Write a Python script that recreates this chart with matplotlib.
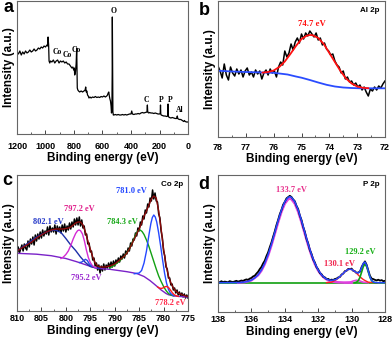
import numpy as np
import matplotlib
matplotlib.use('Agg')
import matplotlib.pyplot as plt
from matplotlib.ticker import MultipleLocator

plt.rcParams['font.family'] = ['Liberation Sans', 'DejaVu Sans']

# ---------------- panel a: survey (binding energy, intensity) ----------------
survey = [(1200, 82), (1190, 80), (1180, 83), (1170, 79), (1160, 82), (1150, 80), (1140, 83),
          (1130, 81), (1120, 82), (1110, 84), (1100, 82), (1090, 83), (1080, 85), (1070, 83),
          (1060, 84), (1050, 86), (1040, 85), (1030, 87), (1020, 86), (1010, 88), (1000, 87),
          (990, 89), (985, 88), (982, 97), (978, 89), (975, 73), (970, 71), (965, 73),
          (955, 72), (945, 74), (935, 71), (925, 73), (915, 74), (905, 71), (895, 73),
          (885, 72), (875, 73), (865, 71), (855, 72), (845, 70), (835, 70), (825, 68),
          (815, 66), (808, 67), (802, 64), (798, 66), (795, 59), (790, 62), (785, 70),
          (781, 86), (777, 46), (773, 44), (768, 43), (760, 42), (750, 43), (740, 42),
          (730, 43), (722, 44), (718, 47), (714, 42), (710, 43), (705, 39), (700, 38),
          (695, 36), (688, 37), (680, 36), (670, 37), (660, 36.5), (650, 37.5), (640, 36.5),
          (630, 37), (620, 36.5), (610, 37.5), (600, 37), (590, 38), (580, 37), (570, 38),
          (565, 39), (560, 41), (556, 42), (552, 38), (548, 35), (544, 33), (540, 28),
          (537, 21), (534, 24), (532, 60), (531, 117), (529, 70), (527, 22), (524, 19),
          (520, 19), (510, 19.5), (500, 19), (490, 19.5), (480, 19), (470, 19), (460, 19.5),
          (450, 19), (440, 19.5), (430, 19), (420, 19.5), (410, 20), (400, 20), (395, 23),
          (390, 20), (380, 19.5), (370, 20), (360, 20), (350, 20.5), (340, 20), (330, 21),
          (320, 21.5), (310, 21), (300, 21.5), (292, 22), (288, 22), (285, 29), (283, 23),
          (280, 21.5), (275, 21), (270, 21.5), (260, 21), (250, 21), (240, 20.5), (230, 21),
          (220, 20.5), (210, 20), (200, 20), (195, 20.5), (193, 29), (191, 20), (188, 19),
          (180, 18.5), (170, 18), (160, 18), (150, 17.5), (143, 18), (140, 30), (138, 18),
          (135, 17), (130, 16.5), (120, 16), (110, 16.5), (100, 16), (90, 15.5), (80, 15.5),
          (75, 18), (72, 15.5), (68, 15), (60, 14.5), (50, 14.5), (40, 13.5), (30, 12.5),
          (25, 13.5), (20, 12.5), (10, 12), (0, 12)]
survey_e = [p[0] for p in survey]
survey_i = [p[1] for p in survey]

survey_labels = ['Co', 'Co', 'Co', 'O', 'C', 'P', 'P', 'Al']
survey_label_e = [916, 846, 782, 523, 291, 189, 126, 56]
survey_label_i = [82, 79, 83.5, 123, 34, 34.5, 34.5, 24]

# ---------------- panel b: Al 2p ----------------
al_e = np.linspace(78, 72, 81)
al_data = [71, 66, 59, 73, 62, 57, 70, 64, 61, 68, 63, 67, 60, 66, 69, 62, 65, 60, 67, 63,
           66, 58, 64, 67, 62, 68, 64, 66, 60, 70, 75, 72, 86, 80, 84, 93, 87, 95, 99, 94,
           103, 98, 104, 101, 106, 103, 100, 104, 97, 99, 92, 94, 88, 86, 82, 83, 76, 72,
           70, 64, 66, 58, 60, 55, 56, 52, 54, 50, 52, 47, 50, 45, 41, 48, 46, 50, 47, 51,
           49, 53, 56]
al_fit_e = [76.4, 76.2, 76.0, 75.8, 75.6, 75.4, 75.2, 75.0, 74.8, 74.7, 74.6, 74.4, 74.2,
            74.0, 73.8, 73.6, 73.4, 73.2, 73.0, 72.8, 72.6]
al_fit_i = [64.4, 65.0, 66.5, 70.0, 75.5, 83.0, 91.0, 98.0, 101.5, 102.0, 101.8, 99.0, 93.0,
            84.0, 75.0, 66.0, 58.5, 53.5, 50.5, 49.2, 48.8]
al_bg_e = [78.0, 77.5, 77.0, 76.5, 76.0, 75.5, 75.2, 75.0, 74.7, 74.4, 74.1, 73.8, 73.5,
           73.2, 72.9, 72.5, 72.0]
al_bg_i = [66.3, 65.5, 65.0, 64.6, 64.2, 62.5, 60.5, 59.3, 57.0, 54.5, 52.2, 50.5, 49.5,
           49.0, 48.7, 48.7, 48.7]

# ---------------- panel c: Co 2p ----------------
co_e = np.arange(810, 774.99, -0.25)
co_data = [57, 64, 58, 62, 66, 60, 67, 63, 61, 70,
           64, 72, 67, 74, 66, 76, 70, 77, 72, 79,
           73, 81, 75, 80, 77, 84, 76, 85, 79, 83,
           79, 86, 77, 85, 80, 84, 78, 86, 80, 87,
           79, 85, 81, 88, 82, 89, 84, 92, 86, 93,
           86, 94, 85, 91, 83, 85, 76, 77, 67, 68,
           59, 60, 51, 53, 45, 48, 41, 46, 38, 45,
           40, 47, 41, 46, 43, 48, 43, 49, 44, 50,
           45, 51, 48, 53, 49, 55, 52, 57, 53, 60,
           57, 63, 60, 68, 65, 72, 71, 78, 75, 83,
           80, 89, 86, 95, 92, 101, 98, 107, 104, 113,
           110, 121, 112, 118, 110, 109, 97, 93, 80, 73,
           60, 55, 44, 42, 33, 33, 26, 27, 21, 23,
           18, 21, 16, 19, 15, 18, 14, 17, 13, 16,
           13]
co_env_e = np.arange(810, 774.99, -0.5)
co_env_i = [60, 61.5, 63, 64.5, 66, 67.5, 69, 71, 73, 74.5, 76, 77.5, 79, 80, 81, 81.5, 82,
            82, 82, 82, 82.5, 83, 84, 86, 88, 89, 89, 86, 79, 70, 62, 54, 48, 45, 44, 44, 44,
            44.5, 45, 46, 47, 49, 51, 53, 55, 58, 62, 67, 72, 77, 82, 88, 95, 100, 106, 112,
            115, 113, 100, 82, 62, 46, 35, 28, 23, 20, 18, 17, 16, 15, 14.5]
co_bg_e = [810, 806, 803, 800, 797.8, 795.5, 793.7, 791, 787.5, 785.5, 784, 782.8, 782.1,
           781.2, 780.5, 780, 779.5, 779, 778, 777, 776, 775]
co_bg_i = [57.7, 56.8, 55.3, 52.5, 49.3, 45.5, 42.7, 41.7, 39.3, 37.5, 34.5, 30.5, 27.7,
           24.0, 21.0, 19.3, 17.5, 16.3, 15.2, 14.6, 14.3, 14.0]
co802_e = [810, 808, 806, 804, 803, 802.2, 801, 800, 799, 798, 797, 796, 795, 794, 793]
co802_i = [60, 67, 74, 79, 80.5, 81, 78.5, 72.5, 66, 60.5, 54, 48.5, 44.5, 43.3, 42.9]
co797_e = [801, 800.5, 800, 799.5, 799, 798.5, 798, 797.6, 797.3, 797, 796.6, 796.2,
           795.8, 795.4, 795, 794.6, 794.2, 793.8]
co797_i = [52.5, 54, 56.5, 60, 65.5, 72, 77.5, 80.3, 81, 80.3, 77, 70, 61, 53.5, 48.5,
           45.5, 44, 43.2]
co795_e = [797.2, 796.8, 796.4, 796.0, 795.6, 795.2, 794.8]
co795_i = [48.5, 48.8, 50.2, 51.7, 50.5, 47.0, 45.0]
co784_e = [791, 790, 789, 788, 787, 786.5, 786, 785.6, 785.2, 784.8, 784.4, 784, 783.5,
           783, 782.5, 782, 781.5, 781, 780.5, 780, 779.5, 779, 778.5, 778]
co784_i = [43, 46, 50, 55, 62, 67.5, 73, 77.5, 80.5, 81, 79.5, 76.5, 71, 64.5, 57, 49.5,
           42, 35, 29.5, 24.5, 20.5, 17.5, 16, 15.2]
co781_e = [786, 785, 784.5, 784, 783.5, 783, 782.6, 782.3, 782.0, 781.7, 781.4, 781,
           780.6, 780.2, 779.8, 779.4, 779, 778.6, 778.2, 777.8]
co781_i = [37.2, 38, 40.5, 48, 60, 76, 87.5, 93.5, 96, 94, 89, 78, 65, 51, 38, 28,
           21.5, 17.8, 16, 15.2]
co778_e = [781.2, 780.8, 780.4, 780.0, 779.7, 779.4, 779.0, 778.6, 778.2, 777.8, 777.4, 777.0]
co778_i = [24.0, 22.8, 22.6, 23.3, 24.2, 24.6, 23.6, 21.0, 18.2, 16.2, 15.2, 14.7]

co_labels = ['781.0 eV', '797.2 eV', '802.1 eV', '784.3 eV', '795.2 eV', '778.2 eV']
co_label_e = [786.5, 797.3, 803.5, 788.5, 795.9, 778.7]
co_label_i = [119.5, 101.5, 89.5, 89.5, 33.5, 8]

# ---------------- panel d: P 2p ----------------
p_e = np.round(np.arange(138, 127.99, -0.1), 2)
p_data = [30.2, 29.6, 30.8, 29.9, 30.4, 30.1, 29.7, 30.9, 30.3, 30.0, 30.6, 31.2, 30.4,
          30.9, 31.5, 31.1, 32.0, 32.6, 32.2, 33.4, 34.1, 35.6, 36.3, 38.4, 40.2, 42.9,
          45.1, 48.6, 51.3, 55.9, 59.6, 64.8, 69.5, 75.2, 80.6, 86.9, 92.1, 97.8, 102.0,
          107.3, 110.1, 113.6, 114.9, 116.2, 115.0, 112.6, 110.8, 106.1, 102.9, 96.5, 92.0,
          85.1, 80.2, 73.1, 68.6, 62.0, 58.1, 52.4, 49.5, 44.8, 42.6, 38.9, 37.8, 35.1,
          34.6, 33.0, 33.1, 31.9, 32.4, 32.0, 33.0, 33.4, 34.6, 35.0, 37.5, 38.4, 40.9,
          41.2, 43.1, 42.9, 43.4, 41.1, 40.8, 38.9, 39.6, 40.2, 45.0, 48.1, 50.6, 47.2,
          41.5, 36.2, 33.4, 32.9, 32.1, 31.6, 32.3, 31.4, 31.9, 30.8, 31.2]
p_env_e = [138.0, 137.0, 136.8, 136.6, 136.4, 136.2, 136.0, 135.8, 135.6, 135.4, 135.2,
           135.0, 134.8, 134.6, 134.4, 134.2, 134.0, 133.8, 133.7, 133.6, 133.4, 133.2,
           133.0, 132.8, 132.6, 132.4, 132.2, 132.0, 131.8, 131.6, 131.4, 131.2, 131.0,
           130.9, 130.8, 130.7, 130.6, 130.5, 130.4, 130.3, 130.2, 130.1, 130.0, 129.9,
           129.8, 129.7, 129.6, 129.5, 129.4, 129.3, 129.2, 129.1, 129.0, 128.9, 128.8,
           128.7, 128.6, 128.4, 128.0]
p_env_i = [29.3, 29.4, 29.4, 29.6, 30.0, 30.7, 31.9, 34.0, 37.2, 42.0, 48.8, 57.5, 68.0,
           79.7, 91.5, 102.2, 110.3, 114.7, 115.3, 114.7, 110.3, 102.2, 91.5, 79.7, 68.0,
           57.5, 48.8, 42.0, 37.2, 34.0, 32.2, 31.6, 32.2, 32.9, 34.1, 35.5, 37.1, 38.7,
           40.2, 41.6, 42.5, 42.8, 42.5, 41.6, 40.3, 39.3, 39.0, 40.6, 44.4, 48.6, 50.0,
           46.8, 40.8, 35.1, 31.6, 30.1, 29.5, 29.3, 29.3]
p133_e = [136.8, 136.4, 136.0, 135.6, 135.4, 135.2, 135.0, 134.8, 134.6, 134.4, 134.2,
          134.0, 133.8, 133.7, 133.6, 133.4, 133.2, 133.0, 132.8, 132.6, 132.4, 132.2,
          132.0, 131.8, 131.6, 131.4, 131.2, 130.8, 130.4, 130.0]
p133_i = [29.4, 29.9, 31.7, 36.8, 41.4, 48.0, 56.5, 66.8, 78.3, 89.8, 100.4, 108.4, 112.8,
          113.4, 112.8, 108.4, 100.4, 89.8, 78.3, 66.8, 56.5, 48.0, 41.4, 36.8, 33.7, 31.7,
          30.5, 29.7, 29.4, 29.3]
p_small_e = [130.4, 130.1, 129.9, 129.7, 129.5, 129.3, 129.0]
p_small_i = [29.3, 29.8, 31.0, 31.8, 31.0, 29.8, 29.3]
p130_e = [131.5, 131.2, 131.0, 130.9, 130.8, 130.7, 130.6, 130.5, 130.4, 130.3, 130.2,
          130.1, 130.0, 129.9, 129.8, 129.7, 129.6, 129.5, 129.4, 129.3, 129.2, 129.0,
          128.7, 128.4]
p130_i = [29.4, 29.8, 31.5, 32.5, 33.8, 35.3, 37.0, 38.7, 40.2, 41.6, 42.5, 42.8, 42.5,
          41.6, 40.2, 38.7, 37.0, 35.3, 33.8, 32.5, 31.5, 29.8, 29.4, 29.3]
p129_e = [129.8, 129.7, 129.6, 129.5, 129.4, 129.3, 129.2, 129.1, 129.0, 128.9, 128.8,
          128.7, 128.6, 128.5]
p129_i = [29.4, 29.9, 31.3, 34.6, 39.9, 45.4, 47.8, 45.4, 39.9, 34.6, 31.3, 29.9, 29.4, 29.3]
p_base_e = [138, 128]
p_base_i = [29.3, 29.3]

p_labels = ['133.7 eV', '130.1 eV', '129.2 eV']
p_label_e = [133.63, 130.7, 129.5]
p_label_i = [122.5, 48.5, 60.5]

# ---------------- layout ----------------
fig = plt.figure(figsize=(3.92, 3.39), dpi=100)
W, H = 392.0, 339.0


def make_ax(l, t, r, b):
    return fig.add_axes([l / W, 1 - b / H, (r - l) / W, (b - t) / H])


ax_a = make_ax(17, 1, 188, 134)
ax_b = make_ax(218, 1, 385, 137)
ax_c = make_ax(17, 175, 188, 311)
ax_d = make_ax(218, 175, 385, 312)

serif = {'family': 'Liberation Serif', 'weight': 'bold'}

for ax, pad in ((ax_a, 5.5), (ax_b, 4), (ax_c, 2.5), (ax_d, 2.5)):
    for s in ax.spines.values():
        s.set_color('#666666')
        s.set_linewidth(0.8)
    ax.set_yticks([])
    ax.tick_params(axis='x', which='major', direction='in', length=3, width=0.7,
                   labelsize=6.5, pad=pad, color='#444444')
    ax.tick_params(axis='x', which='minor', direction='in', length=1.8, width=0.6,
                   color='#444444')
    ax.set_xlabel('Binding energy (eV)', fontsize=8.5, fontweight='bold', labelpad=1)
    ax.set_ylabel('Intensity (a.u.)', fontsize=8.5, fontweight='bold', labelpad=1.5)

# a
ax_a.plot(survey_e, survey_i, color='black', lw=0.9)
ax_a.set_xlim(1200, 0)
ax_a.set_ylim(0, 133)
ax_a.xaxis.set_major_locator(MultipleLocator(200))
ax_a.xaxis.set_minor_locator(MultipleLocator(100))
for t, e, i in zip(survey_labels, survey_label_e, survey_label_i):
    ax_a.text(e, i, t, fontsize=5.5, ha='center', va='center', fontdict=serif)

# b
ax_b.plot(al_e, al_data, color='black', lw=1.1)
ax_b.plot(al_bg_e, al_bg_i, color='#2a4cff', lw=1.3)
ax_b.plot(al_fit_e, al_fit_i, color='#ff1010', lw=1.3)
ax_b.set_xlim(78, 72)
ax_b.set_ylim(0, 136)
ax_b.xaxis.set_major_locator(MultipleLocator(1))
ax_b.xaxis.set_minor_locator(MultipleLocator(0.5))
ax_b.text(74.62, 113, '74.7 eV', color='#ff1010', fontsize=6.3, ha='center', va='center',
          fontdict=serif)
ax_b.text(0.97, 0.93, 'Al 2p', transform=ax_b.transAxes, fontsize=5.8, fontweight='bold',
          ha='right', va='center')

# c
ax_c.plot(co_e, co_data, color='black', lw=1.1)
ax_c.plot(co_bg_e, co_bg_i, color='#7a22c8', lw=1.0)
ax_c.plot(co802_e, co802_i, color='#1c2fa8', lw=1.0)
ax_c.plot(co797_e, co797_i, color='#d42ad4', lw=1.0)
ax_c.plot(co795_e, co795_i, color='#2a48e8', lw=1.0)
ax_c.plot(co784_e, co784_i, color='#12a012', lw=1.0)
ax_c.plot(co781_e, co781_i, color='#2448ff', lw=1.0)
ax_c.plot(co778_e, co778_i, color='#ff1a1a', lw=1.0)
ax_c.plot(co_env_e, co_env_i, color='#8b0a0a', lw=1.0)
ax_c.set_xlim(810, 775)
ax_c.set_ylim(0, 136)
ax_c.xaxis.set_major_locator(MultipleLocator(5))
ax_c.xaxis.set_minor_locator(MultipleLocator(2.5))
co_colors = ['#2448ff', '#e0208c', '#2438c8', '#18a818', '#9a2ad0', '#ff2a4a']
for t, e, i, c in zip(co_labels, co_label_e, co_label_i, co_colors):
    ax_c.text(e, i, t, color=c, fontsize=6.0, ha='center', va='center', fontdict=serif)
ax_c.text(0.97, 0.93, 'Co 2p', transform=ax_c.transAxes, fontsize=5.8, fontweight='bold',
          ha='right', va='center')

# d
ax_d.plot(p_base_e, p_base_i, color='#10a010', lw=1.2)
ax_d.plot(p133_e, p133_i, color='#e040e0', lw=1.8)
ax_d.plot(p_small_e, p_small_i, color='#e040e0', lw=1.2)
ax_d.plot(p_e, p_data, color='black', lw=1.3)
ax_d.plot(p130_e, p130_i, color='#ff2020', lw=1.0)
ax_d.plot(p129_e, p129_i, color='#10a010', lw=1.2)
ax_d.plot(p_env_e, p_env_i, color='#2448ff', lw=1.1)
ax_d.set_xlim(138, 128)
ax_d.set_ylim(0, 137)
ax_d.xaxis.set_major_locator(MultipleLocator(2))
ax_d.xaxis.set_minor_locator(MultipleLocator(1))
p_colors = ['#e8308c', '#f0204a', '#18b018']
for t, e, i, c in zip(p_labels, p_label_e, p_label_i, p_colors):
    ax_d.text(e, i, t, color=c, fontsize=6.0, ha='center', va='center', fontdict=serif)
ax_d.text(0.97, 0.93, 'P 2p', transform=ax_d.transAxes, fontsize=5.8, fontweight='bold',
          ha='right', va='center')

for ax in (ax_a, ax_b, ax_c, ax_d):
    for lab in ax.get_xticklabels():
        lab.set_fontweight('bold')

# panel letters
for letter, x, y in [('a', 3, 12), ('b', 199, 15), ('c', 2, 185), ('d', 198, 189)]:
    fig.text(x / W, 1 - y / H, letter, fontsize=13, fontweight='bold', va='baseline')

fig.savefig('out.png', dpi=100)
